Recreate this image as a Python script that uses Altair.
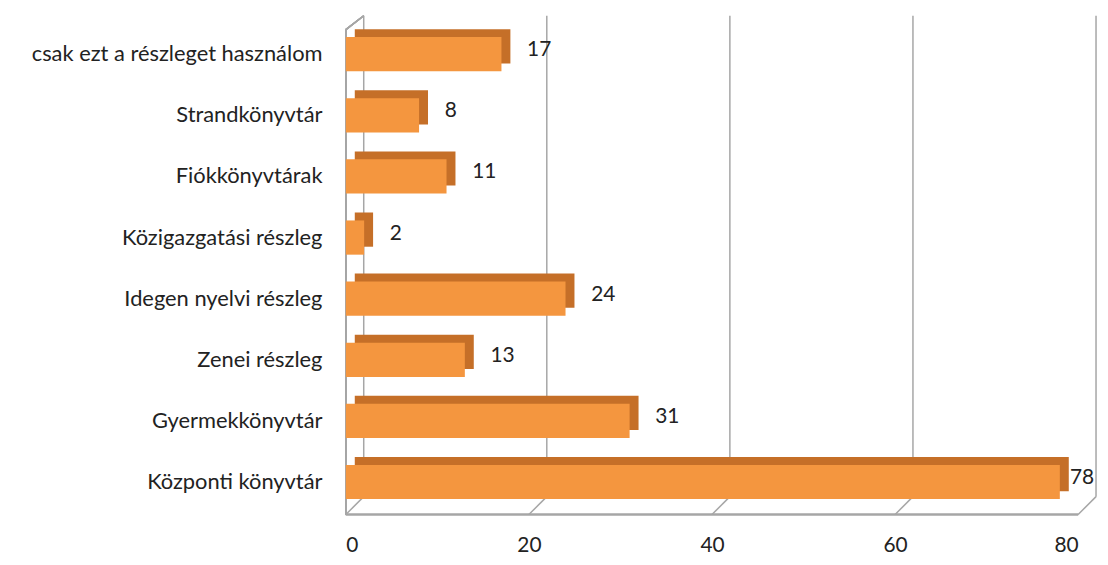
import altair as alt
import pandas as pd

categories = [
    "csak ezt a részleget használom",
    "Strandkönyvtár",
    "Fiókkönyvtárak",
    "Közigazgatási részleg",
    "Idegen nyelvi részleg",
    "Zenei részleg",
    "Gyermekkönyvtár",
    "Központi könyvtár",
]
values = [17, 8, 11, 2, 24, 13, 31, 78]
x_ticks = [0, 20, 40, 60, 80]

df = pd.DataFrame({"cat": categories, "v": values})
ticks = pd.DataFrame({"t": x_ticks})

W, H = 737, 492
FONT = "Lato"
FRONT = "#F4963F"
TOP = "#C56F28"
GRID = "#A6A6A6"

xs = alt.Scale(domain=[0, 80], nice=False)
ys = alt.Scale(domain=categories, paddingInner=0.44, paddingOuter=0.22)

x_axis = alt.Axis(values=x_ticks, grid=False, domain=False, ticks=False,
                  labelFont=FONT, labelFontSize=21, labelColor="#222222",
                  labelPadding=22, title=None)
y_axis = alt.Axis(domain=False, ticks=False, grid=False, labelFont=FONT,
                  labelFontSize=22, labelColor="#222222", labelPadding=24,
                  labelLimit=400, title=None)

# back-wall gridlines
grid = alt.Chart(ticks).mark_rule(color=GRID, strokeWidth=1.5, xOffset=18).encode(
    x=alt.X("t:Q", scale=xs, axis=x_axis),
    y=alt.value(-8), y2=alt.value(H - 16),
)
# floor diagonals
diag = alt.Chart(ticks).mark_rule(color=GRID, strokeWidth=1.5, x2Offset=18).encode(
    x=alt.X("t:Q", scale=xs), x2="t:Q",
    y=alt.value(H + 2), y2=alt.value(H - 16),
)
# floor front edge
floor = alt.Chart(ticks).mark_rule(color=GRID, strokeWidth=1.5).encode(
    x=alt.datum(0, scale=xs), x2=alt.datum(80),
    y=alt.value(H + 2),
)
# left wall front edge
wall = alt.Chart(ticks).mark_rule(color=GRID, strokeWidth=1.5).encode(
    x=alt.datum(0, scale=xs), y=alt.value(6), y2=alt.value(H + 2),
)
wall_top = alt.Chart(ticks).mark_rule(color=GRID, strokeWidth=1.5, x2Offset=18).encode(
    x=alt.datum(0, scale=xs), x2=alt.datum(0),
    y=alt.value(6), y2=alt.value(-8),
)

back = alt.Chart(df).mark_bar(color=TOP, xOffset=9, yOffset=-8, x2Offset=9).encode(
    y=alt.Y("cat:N", scale=ys, axis=y_axis, sort=categories),
    x=alt.X("v:Q", scale=xs), x2=alt.datum(0),
)
front = alt.Chart(df).mark_bar(color=FRONT).encode(
    y=alt.Y("cat:N", scale=ys, sort=categories),
    x=alt.X("v:Q", scale=xs), x2=alt.datum(0),
)
labels = alt.Chart(df).transform_calculate(
    pos="min(datum.v + 2.8, 79.1)"
).mark_text(align="left", baseline="middle", font=FONT, fontSize=21,
            color="#222222", dy=-4).encode(
    y=alt.Y("cat:N", scale=ys, sort=categories),
    x=alt.X("pos:Q", scale=xs),
    text="v:Q",
)

chart = alt.layer(grid, diag, floor, wall, wall_top, back, front, labels).properties(
    width=W, height=H,
    background="white",
    autosize=alt.AutoSizeParams(type="none"),
    padding={"left": 340, "top": 14, "right": 22, "bottom": 48},
).configure_view(strokeWidth=0)

chart.save("out.html", embed_options={"renderer": "svg", "actions": False})
